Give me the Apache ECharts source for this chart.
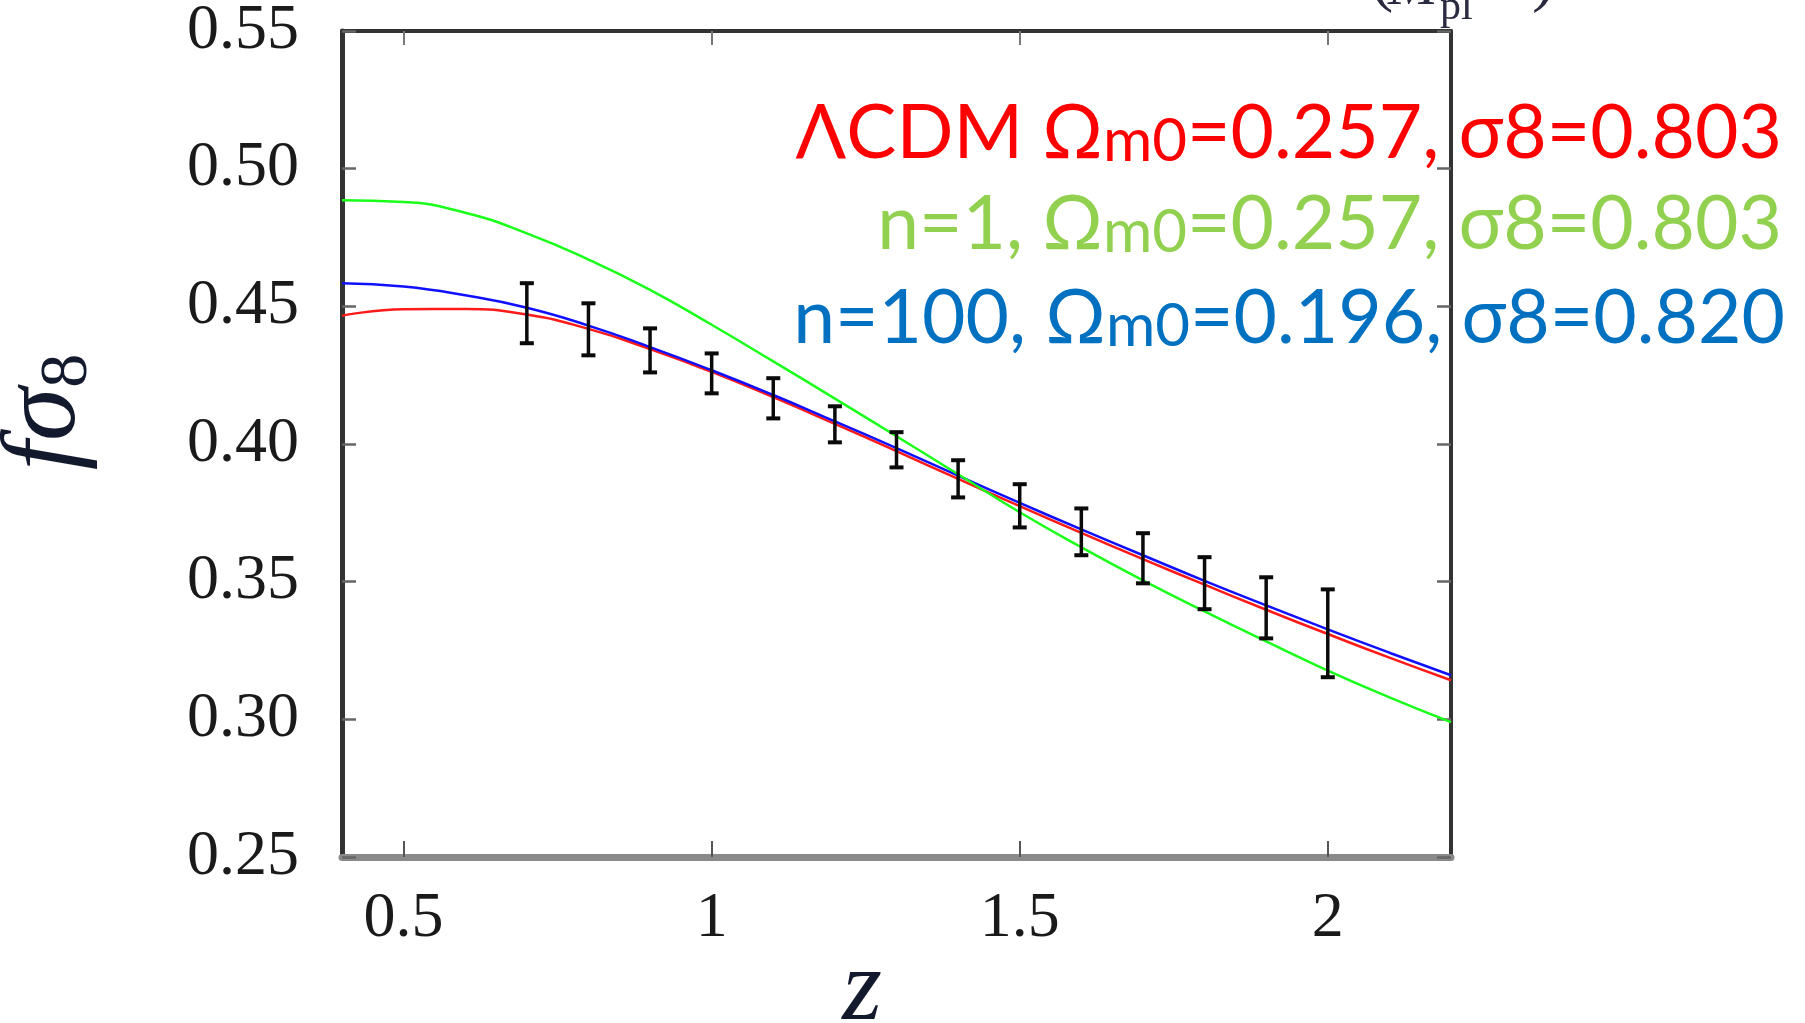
<!DOCTYPE html>
<html><head><meta charset="utf-8">
<script src="https://cdn.jsdelivr.net/npm/echarts@6/dist/echarts.min.js"></script>
<style>html,body{margin:0;padding:0;background:#fff}#c{width:1805px;height:1023px}</style>
</head><body><div id="c"></div>
<script>
// ---- data ----
const zGrid = [0.4,0.5,0.6,0.7,0.8,0.9,1.0,1.1,1.2,1.3,1.4,1.5,1.6,1.7,1.8,1.9,2.0,2.1,2.2];
const lcdm  = [0.4466,0.4489,0.4490,0.4470,0.4418,0.4345,0.4262,0.4170,0.4073,0.3974,0.3873,0.3774,0.3677,0.3582,0.3489,0.3398,0.3310,0.3224,0.3142];
const n1    = [0.4885,0.4879,0.4840,0.4765,0.4670,0.4560,0.4433,0.4300,0.4165,0.4028,0.3890,0.3752,0.3625,0.3505,0.3392,0.3283,0.3177,0.3080,0.2990];
const n100  = [0.4584,0.4572,0.4540,0.4495,0.4430,0.4352,0.4268,0.4178,0.4082,0.3985,0.3885,0.3786,0.3690,0.3596,0.3503,0.3414,0.3327,0.3242,0.3160];
const obsZ    = [0.7,0.8,0.9,1.0,1.1,1.2,1.3,1.4,1.5,1.6,1.7,1.8,1.9,2.0];
const obsLow  = [0.4366,0.4322,0.4260,0.4184,0.4093,0.4006,0.3915,0.3806,0.3697,0.3596,0.3494,0.3400,0.3294,0.3153];
const obsHigh = [0.4584,0.4511,0.4420,0.4329,0.4239,0.4137,0.4043,0.3941,0.3854,0.3766,0.3676,0.3589,0.3516,0.3472];
const xTicks = [0.5,1,1.5,2];
const yTicks = [0.25,0.30,0.35,0.40,0.45,0.50,0.55];
const legendLines = [
  {pre:'ΛCDM Ω', sub:'m0', post:'=0.257, σ8=0.803', color:'#ff0000'},
  {pre:'n=1, Ω', sub:'m0', post:'=0.257, σ8=0.803', color:'#92d050'},
  {pre:'n=100, Ω', sub:'m0', post:'=0.196, σ8=0.820', color:'#0070c0'}
];

const chart = echarts.init(document.getElementById('c'), null, {renderer:'canvas'});
const serif = 'Liberation Serif, Times New Roman, serif';
const sans = 'Lato, Open Sans, Noto Sans, sans-serif';
const legendX = [1782, 1782, 1785];
const legendY = [134, 225, 319];

chart.setOption({
  animation:false,
  backgroundColor:'#ffffff',
  grid:{left:342, right:354, top:31, bottom:166, outerBoundsMode:'none'},
  xAxis:[
    {type:'value', min:0.4, max:2.2, position:'bottom',
     axisLine:{show:true, onZero:false, lineStyle:{color:'#8a8a8a', width:7}},
     axisTick:{show:true, inside:true, length:16, customValues:xTicks, lineStyle:{color:'#555', width:2}},
     axisLabel:{show:true, customValues:xTicks, margin:30, fontFamily:serif, fontSize:64, color:'#1a1a1a'},
     splitLine:{show:false}},
    {type:'value', min:0.4, max:2.2, position:'top',
     axisLine:{show:true, onZero:false, lineStyle:{color:'#333', width:4}},
     axisTick:{show:true, inside:true, length:14, customValues:xTicks, lineStyle:{color:'#777', width:2}},
     axisLabel:{show:false}, splitLine:{show:false}}
  ],
  yAxis:[
    {type:'value', min:0.25, max:0.55, position:'left',
     axisLine:{show:true, onZero:false, lineStyle:{color:'#333', width:5}},
     axisTick:{show:true, inside:true, length:14, customValues:yTicks, lineStyle:{color:'#666', width:2.5}},
     axisLabel:{show:true, customValues:yTicks, margin:43, fontFamily:serif, fontSize:64, color:'#1a1a1a',
       formatter:v=>v.toFixed(2)},
     splitLine:{show:false}},
    {type:'value', min:0.25, max:0.55, position:'right',
     axisLine:{show:true, onZero:false, lineStyle:{color:'#333', width:4}},
     axisTick:{show:true, inside:true, length:14, customValues:yTicks, lineStyle:{color:'#666', width:2.5}},
     axisLabel:{show:false}, splitLine:{show:false}}
  ],
  series:[
    {type:'line', name:'LCDM', smooth:true, symbol:'none', data:zGrid.map((z,i)=>[z,lcdm[i]]),
     lineStyle:{color:'#ff1a1a', width:2.5}, z:2},
    {type:'line', name:'n100', smooth:true, symbol:'none', data:zGrid.map((z,i)=>[z,n100[i]]),
     lineStyle:{color:'#1010ff', width:2.5}, z:3},
    {type:'line', name:'n1', smooth:true, symbol:'none', data:zGrid.map((z,i)=>[z,n1[i]]),
     lineStyle:{color:'#1aff1a', width:2.5}, z:4},
    {type:'custom', name:'obs', z:5,
     data:obsZ.map((z,i)=>[z,obsLow[i],obsHigh[i]]),
     encode:{x:0, y:[1,2]},
     renderItem:function(params, api){
       const x = api.value(0);
       const pLo = api.coord([x, api.value(1)]);
       const pHi = api.coord([x, api.value(2)]);
       const hw = 7;
       const st = {stroke:'#0a0a0a', lineWidth:3.5};
       const cap = {stroke:'#0a0a0a', lineWidth:4};
       return {type:'group', children:[
         {type:'line', shape:{x1:pLo[0], y1:pLo[1], x2:pHi[0], y2:pHi[1]}, style:st},
         {type:'line', shape:{x1:pLo[0]-hw, y1:pLo[1], x2:pLo[0]+hw, y2:pLo[1]}, style:cap},
         {type:'line', shape:{x1:pHi[0]-hw, y1:pHi[1], x2:pHi[0]+hw, y2:pHi[1]}, style:cap}
       ]};
     }}
  ],
  graphic:[
    ...legendLines.map((L,i)=>({
      type:'text', x:legendX[i], y:legendY[i], z:100,
      style:{text:'{a|'+L.pre+'}{b|'+L.sub+'}{a|'+L.post+'}', align:'right', verticalAlign:'middle',
        rich:{
          a:{fontFamily:sans, fontSize:75, lineHeight:75, fill:L.color},
          b:{fontFamily:sans, fontSize:60, lineHeight:65, verticalAlign:'bottom', fill:L.color}
        }}
    })),
    {type:'text', x:46, y:412, rotation:Math.PI/2, z:100,
     style:{text:'{f|f}{s|σ}{d|8}', align:'center', verticalAlign:'middle',
       rich:{
         f:{fontFamily:serif, fontStyle:'italic', fontSize:105, lineHeight:113, fill:'#141a2e'},
         s:{fontFamily:serif, fontStyle:'italic', fontSize:108, lineHeight:113, fill:'#141a2e'},
         d:{fontFamily:serif, fontSize:68, lineHeight:66, verticalAlign:'bottom', fill:'#141a2e'}
       }}},
    {type:'text', x:862, y:992, z:100,
     style:{text:'z', align:'center', verticalAlign:'middle', fontFamily:serif, fontStyle:'italic', fontSize:102, fill:'#141a2e'}},
    {type:'text', x:1370, y:15, z:100,
     style:{text:'(', align:'left', verticalAlign:'bottom', fontFamily:serif, fontSize:70, fill:'#2a2a40'}},
    {type:'text', x:1388, y:18, z:100,
     style:{text:'M', align:'left', verticalAlign:'bottom', fontFamily:serif, fontStyle:'italic', fontSize:60, fill:'#2a2a40'}},
    {type:'text', x:1440, y:29, z:100,
     style:{text:'pl', align:'left', verticalAlign:'bottom', fontFamily:serif, fontSize:42, fill:'#2a2a40'}},
    {type:'text', x:1532, y:15, z:100,
     style:{text:')', align:'left', verticalAlign:'bottom', fontFamily:serif, fontSize:70, fill:'#2a2a40'}}
  ]
});
</script></body></html>
